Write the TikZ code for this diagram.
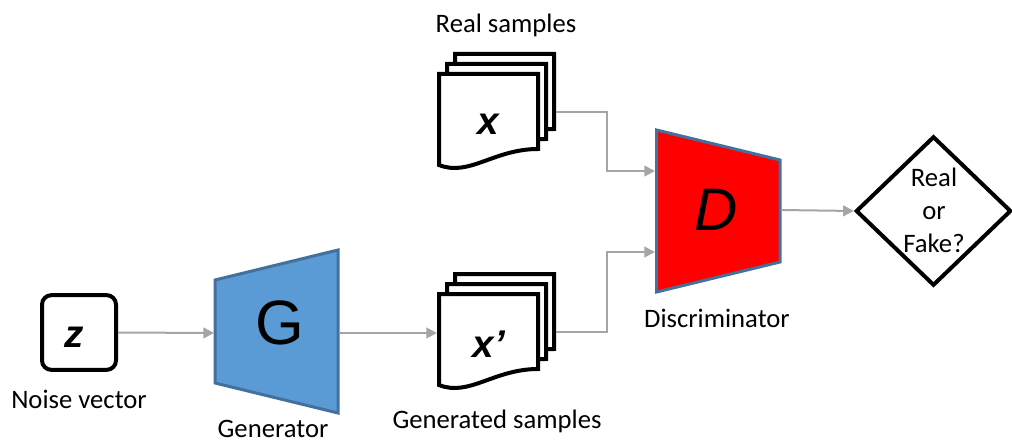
\documentclass[tikz,border=0pt]{standalone}
\usepackage{fontspec}
\setmainfont{Carlito}
\newfontfamily\arialf{Liberation Sans}
\usetikzlibrary{arrows.meta,shapes.geometric}
\definecolor{gblue}{HTML}{5B9BD5}
\definecolor{bborder}{HTML}{41719C}
\definecolor{conngray}{HTML}{A5A5A5}
\definecolor{dred}{HTML}{FF0000}
\newcommand\docsheet[2]{%
  \draw[sheet] (#1,#2) -- ({#1+99},#2) -- ({#1+99},{#2+75})
    .. controls ({#1+55},{#2+75}) and ({#1+30},{#2+103}) .. (#1,{#2+91}) -- cycle;}
\begin{document}
\begin{tikzpicture}[x=0.75pt,y=-0.75pt,
  conn/.style={draw=conngray, line width=1.5pt, -{Triangle[length=8pt,width=8pt]}},
  sheet/.style={draw=black, fill=white, line width=3pt, line join=miter},
  lbl/.style={font=\fontsize{20}{24.75}\selectfont, anchor=base, inner sep=0pt},
  bigletter/.style={anchor=base, inner sep=0pt},
  net/.style={line width=2.25pt, draw=bborder, line join=miter},
  zboxst/.style={draw=black, line width=3pt, rounded corners=7pt, minimum width=55.5pt, minimum height=56pt, inner sep=0pt}]
\useasboundingbox (0,0) rectangle (1012,445);

% noise vector
\node[zboxst] (z) at (79,332.5) {};
\node[bigletter, font=\arialf\bfseries\itshape\fontsize{29}{32}\selectfont] (zl) at (74,347) {z};
\node[lbl] (zlab) at (79,408) {Noise vector};

% generator
\draw[net, fill=gblue] (215,280) -- (338,250) -- (338,413) -- (215,383) -- cycle;
\coordinate (Gin) at (214,333);
\coordinate (Gout) at (339,333);
\node[bigletter, font=\arialf\fontsize{47}{50}\selectfont] (G) at (279.5,344) {G};
\node[lbl] (Glab) at (273,437.5) {Generator};

% real samples stack
\docsheet{455}{54}
\docsheet{447}{64}
\docsheet{439}{74}
\coordinate (realout) at (556,112);
\node[bigletter, font=\arialf\bfseries\itshape\fontsize{29}{32}\selectfont] (x) at (488,135) {x};
\node[lbl] (xlab) at (506,33) {Real samples};

% generated samples stack
\docsheet{455}{274}
\docsheet{447}{284}
\docsheet{439}{294}
\coordinate (genin) at (437,333);
\coordinate (genout) at (556,332);
\node[bigletter, font=\arialf\bfseries\itshape\fontsize{29}{32}\selectfont] (xp) at (489,357) {x’};
\node[lbl] (xplab) at (497,428) {Generated samples};

% discriminator
\draw[net, fill=dred] (656.5,130) -- (780,160) -- (780,262) -- (656.5,292) -- cycle;
\coordinate (Din1) at (655,171);
\coordinate (Din2) at (655,252);
\coordinate (Dout) at (781,210);
\node[bigletter, font=\arialf\itshape\fontsize{45}{48}\selectfont] (D) at (716,230) {D};
\node[lbl] (Dlab) at (717,327) {Discriminator};

% decision
\node[diamond, draw=black, line width=3pt, minimum width=116.5pt, minimum height=112pt, inner sep=0pt] (dec) at (933.5,211) {};
\node[font=\fontsize{20}{24.75}\selectfont, align=center, inner sep=0pt] (dect) at (934,210.7) {Real\\or\\Fake?};

% connectors
\draw[conn] (z.east) -- (Gin);
\draw[conn] (Gout) -- (genin);
\draw[conn] (realout) -- ++(51,0) |- (Din1);
\draw[conn] (genout) -- ++(51,0) |- (Din2);
\draw[conn] (Dout) -- (dec.west);
\end{tikzpicture}
\end{document}
